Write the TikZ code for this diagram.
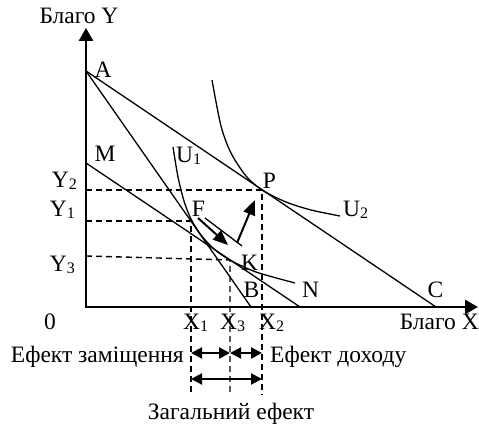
\documentclass[tikz,border=0pt]{standalone}
\usepackage{fontspec}
\setmainfont{Liberation Serif}
\usetikzlibrary{arrows.meta}

\newcommand{\idx}[1]{\raisebox{-1.5pt}{\fontsize{16}{16}\selectfont #1}}

\begin{document}
\begin{tikzpicture}[x=1pt, y=1pt,
    axis/.style={line width=2.6pt, {Triangle[length=13pt,width=14pt]}-{Triangle[length=13pt,width=14pt]}},
    budget/.style={line width=1.3pt},
    guide/.style={line width=1.4pt, dash pattern=on 6pt off 4pt},
    movearrow/.style={line width=2pt, -{Triangle[length=15pt,width=12pt]}},
    effect/.style={line width=2pt, {Triangle[length=11pt,width=11pt]}-{Triangle[length=11pt,width=11pt]}},
    lbl/.style={font=\fontsize{23.5}{26}\selectfont, inner sep=0pt}]

    \useasboundingbox (-86,-120) rectangle (393,307);

    % points of the diagram
    \coordinate (O) at (0,0);
    \coordinate (Ytop) at (0,279);
    \coordinate (Xend) at (392,0);
    \coordinate (A) at (0,236);
    \coordinate (M) at (0,144);
    \coordinate (B) at (165,0);
    \coordinate (N) at (214,0);
    \coordinate (C) at (350,0);
    \coordinate (F) at (105,86);
    \coordinate (K) at (144,47);
    \coordinate (P) at (176,117);

    % axes
    \draw[axis] (Ytop) -- (O) -- (Xend);

    % budget lines
    \draw[budget] (A) -- (C);
    \draw[budget] (A) -- (B);
    \draw[budget] (M) -- (N);

    % indifference curves
    \draw[budget] plot[smooth] coordinates {(87,160) (92,130) (98,106) (105,88) (115,72) (128,58) (144,47) (170,35) (209,24)};
    \draw[budget] plot[smooth] coordinates {(126,227) (135,181) (145,154) (160,131) (176,117) (200,105) (225,97) (254,91)};

    % guide lines
    \coordinate (Y1) at (0,86);
    \coordinate (Y2) at (0,117);
    \coordinate (Y3) at (0,51);
    \coordinate (X1b) at (105,-88);
    \coordinate (X3b) at (144,-88);
    \coordinate (X2b) at (176,-88);
    \draw[guide] (Y2) -- (P) -- (X2b);
    \draw[guide] (Y1) -- (F) -- (X1b);
    \draw[guide] (Y3) -- (K) -- (X3b);

    % movement F -> K -> P
    \coordinate (sa) at (112,89);
    \coordinate (sb) at (142,62);
    \coordinate (ta) at (119,89);
    \coordinate (tb) at (156,61);
    \coordinate (ia) at (151,64);
    \coordinate (ib) at (169,107);
    \draw[movearrow] (sa) -- (sb);
    \draw[budget] (ta) -- (tb);
    \draw[movearrow] (ia) -- (ib);

    % effects
    \coordinate (e1) at (105,-46);
    \coordinate (e3) at (144,-46);
    \coordinate (e2) at (176,-46);
    \coordinate (g1) at (105,-72);
    \coordinate (g2) at (176,-72);
    \draw[effect] (e1) -- (e3);
    \draw[effect] (e3) -- (e2);
    \draw[effect] (g1) -- (g2);

    % labels
    \node[lbl, anchor=base] (goodY) at (-7,283) {Благо Y};
    \node[lbl, anchor=base] (labA) at (17,229) {A};
    \node[lbl, anchor=base] (labM) at (19,145) {M};
    \node[lbl, anchor=base west] (labU1) at (90,144) {U\idx{1}};
    \node[lbl, anchor=base east] (labY2) at (-9,119) {Y\idx{2}};
    \node[lbl, anchor=base east] (labY1) at (-11,90) {Y\idx{1}};
    \node[lbl, anchor=base east] (labY3) at (-11,35) {Y\idx{3}};
    \node[lbl, anchor=base] (labF) at (112.5,90) {F};
    \node[lbl, anchor=base] (labP) at (183.5,118) {P};
    \node[lbl, anchor=base] (labK) at (163.5,36) {K};
    \node[lbl, anchor=base] (labB) at (165.5,9) {B};
    \node[lbl, anchor=base] (labN) at (224.5,9) {N};
    \node[lbl, anchor=base] (labC) at (349.5,9) {C};
    \node[lbl, anchor=base west] (labU2) at (257,90) {U\idx{2}};
    \node[lbl, anchor=base] (lab0) at (-36,-23) {0};
    \node[lbl, anchor=base west] (labX1) at (97,-23) {X\idx{1}};
    \node[lbl, anchor=base west] (labX3) at (134,-23) {X\idx{3}};
    \node[lbl, anchor=base west] (labX2) at (173,-23) {X\idx{2}};
    \node[lbl, anchor=base east] (goodX) at (393,-23) {Благо X};
    \node[lbl, anchor=base east] (subst) at (98,-56) {Ефект заміщення};
    \node[lbl, anchor=base west] (income) at (184,-56) {Ефект доходу};
    \node[lbl, anchor=base] (total) at (145,-113) {Загальний ефект};

\end{tikzpicture}
\end{document}
